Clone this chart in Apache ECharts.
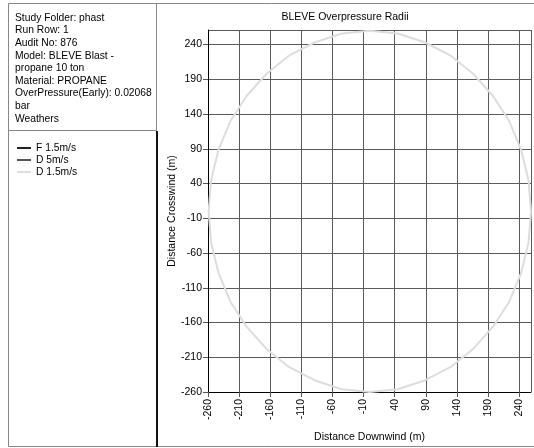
<!DOCTYPE html>
<html>
<head>
<meta charset="utf-8">
<script src="https://cdn.jsdelivr.net/npm/echarts@6/dist/echarts.min.js"></script>
<style>
html, body { margin: 0; padding: 0; background: #fff; }
#main { width: 534px; height: 448px; }
</style>
</head>
<body>
<div id="main"></div>
<script>
// contour points (downwind, crosswind), metres
var radiusX = [259, 255, 243, 224, 198, 166, 130, 89, 45, 0, -45, -89, -130, -166, -198, -224, -243, -255, -259,
	-255, -243, -224, -198, -166, -130, -89, -45, 0, 45, 89, 130, 166, 198, 224, 243, 255, 259];
var radiusY = [0, 45, 89, 130, 166, 198, 224, 243, 256, 260, 256, 243, 224, 198, 166, 130, 89, 45, 0,
	-45, -89, -130, -166, -198, -224, -243, -256, -260, -256, -243, -224, -198, -166, -130, -89, -45, 0];
var weatherNames = ['F 1.5m/s', 'D 5m/s', 'D 1.5m/s'];
var weatherColors = ['#222222', '#555555', '#dddddd'];
var infoLines = ['Study Folder: phast', 'Run Row: 1', 'Audit No: 876', 'Model: BLEVE Blast -',
	'propane 10 ton', 'Material: PROPANE', 'OverPressure(Early): 0.02068', 'bar', 'Weathers'];

var FONT = '"Liberation Sans", Arial, sans-serif';

var contour = [];
for (var i = 0; i < radiusX.length; i++) {
	contour.push([radiusX[i], radiusY[i]]);
}

var graphics = [
	{ type: 'rect', shape: { x: 8.5, y: 3.5, width: 540, height: 443 }, style: { fill: 'none', stroke: '#888', lineWidth: 1 }, silent: true },
	{ type: 'line', shape: { x1: 156.5, y1: 4, x2: 156.5, y2: 131 }, style: { stroke: '#888', lineWidth: 1 }, silent: true },
	{ type: 'line', shape: { x1: 157, y1: 131, x2: 157, y2: 447 }, style: { stroke: '#111', lineWidth: 2 }, silent: true },
	{ type: 'line', shape: { x1: 9, y1: 130.5, x2: 157, y2: 130.5 }, style: { stroke: '#888', lineWidth: 1 }, silent: true },
	{ type: 'text', x: 345, y: 17, style: { text: 'BLEVE Overpressure Radii', font: '10.5px ' + FONT, fill: '#000', textAlign: 'center', textVerticalAlign: 'middle' } }
];
for (var j = 0; j < infoLines.length; j++) {
	graphics.push({
		type: 'text', x: 15, y: 18 + j * 12.6,
		style: { text: infoLines[j], font: '10.3px ' + FONT, fill: '#000', textVerticalAlign: 'middle' }
	});
}

// all three weathers give the same blast contour; D 1.5m/s is drawn on top and hides the others
var seriesList = [];
for (var k = 0; k < weatherNames.length; k++) {
	var onTop = k === weatherNames.length - 1;
	seriesList.push({
		name: weatherNames[k],
		type: 'line',
		data: contour,
		showSymbol: false,
		symbol: 'none',
		z: 2 + k,
		lineStyle: { color: weatherColors[k], width: 2, opacity: onTop ? 1 : 0 },
		itemStyle: { color: weatherColors[k] },
		animation: false
	});
}

var myChart = echarts.init(document.getElementById('main'));
var option = {
	animation: false,
	graphic: graphics,
	legend: {
		orient: 'vertical',
		left: 12,
		top: 138,
		icon: 'rect',
		itemWidth: 14,
		itemHeight: 2,
		itemGap: 2,
		data: weatherNames,
		textStyle: { fontFamily: FONT, fontSize: 10.3, color: '#000' },
		selectedMode: false
	},
	grid: { left: 208, top: 30, right: 3, bottom: 51 },
	xAxis: {
		type: 'value',
		min: -260,
		max: 259,
		interval: 50,
		name: 'Distance Downwind (m)',
		nameLocation: 'middle',
		nameGap: 40,
		nameTextStyle: { fontFamily: FONT, fontSize: 10.5, color: '#000' },
		axisLine: { show: true, onZero: false, lineStyle: { color: '#000' } },
		axisTick: { show: true, length: 5, lineStyle: { color: '#555' } },
		axisLabel: { rotate: 90, fontFamily: FONT, fontSize: 10.5, color: '#000', margin: 7, showMaxLabel: false },
		splitLine: { show: true, lineStyle: { color: '#5a5a5a', width: 1 } }
	},
	yAxis: {
		type: 'value',
		min: -260,
		max: 261,
		interval: 50,
		name: 'Distance Crosswind (m)',
		nameLocation: 'middle',
		nameGap: 30,
		nameMoveOverlap: false,
		nameTextStyle: { fontFamily: FONT, fontSize: 10.5, color: '#000' },
		axisLine: { show: true, onZero: false, lineStyle: { color: '#000' } },
		axisTick: { show: true, length: 5, lineStyle: { color: '#555' } },
		axisLabel: { fontFamily: FONT, fontSize: 10.5, color: '#000', margin: 6, showMaxLabel: false },
		splitLine: { show: true, lineStyle: { color: '#5a5a5a', width: 1 } }
	},
	series: seriesList
};
myChart.setOption(option);
</script>
</body>
</html>
